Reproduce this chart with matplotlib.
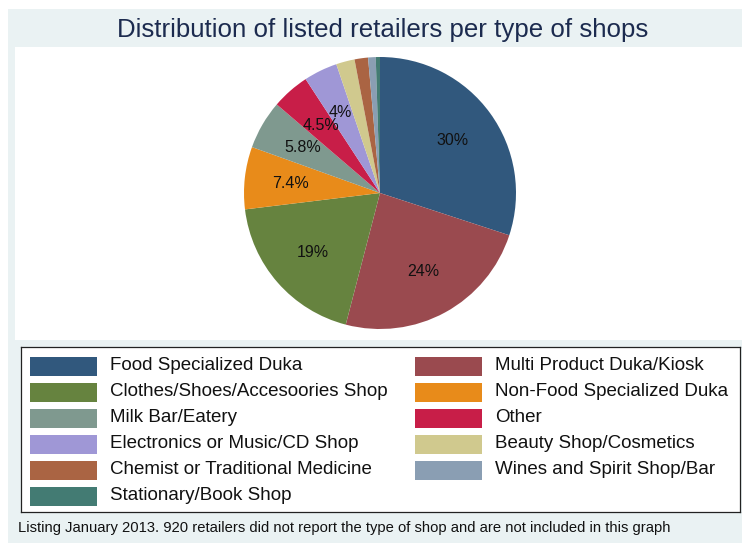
import matplotlib
matplotlib.use("Agg")
import matplotlib.pyplot as plt
from matplotlib.patches import Rectangle

plt.rcParams['font.family'] = ['Liberation Sans', 'DejaVu Sans']

# share of listed retailers per type of shop (%)
shop_types = [
    "Food Specialized Duka", "Multi Product Duka/Kiosk",
    "Clothes/Shoes/Accesoories Shop", "Non-Food Specialized Duka",
    "Milk Bar/Eatery", "Other",
    "Electronics or Music/CD Shop", "Beauty Shop/Cosmetics",
    "Chemist or Traditional Medicine", "Wines and Spirit Shop/Bar",
    "Stationary/Book Shop",
]
shares = [30, 24, 19, 7.4, 5.8, 4.5, 4, 2.2, 1.6, 0.9, 0.5]
colors = ["#31587D", "#9A4A4F", "#66833F", "#E88B1A", "#7F998F", "#C81E48",
          "#9F97D6", "#D0C98E", "#AA6443", "#8A9EB3", "#437B73"]

title = "Distribution of listed retailers per type of shops"
note = ("Listing January 2013. 920 retailers did not report the type of shop "
        "and are not included in this graph")

W, H = 742, 543
fig = plt.figure(figsize=(W / 100, H / 100), dpi=100)
fig.patch.set_facecolor("white")


def box(x0, y0, x1, y1):
    # pixel box (top-left origin) -> figure fraction rect
    return [x0 / W, 1 - y1 / H, (x1 - x0) / W, (y1 - y0) / H]


# graph region background
bg = fig.add_axes(box(8, 9, W, H))
bg.set_facecolor("#EAF2F3")
bg.set_xticks([]); bg.set_yticks([])
for s in bg.spines.values():
    s.set_visible(False)

# plot region
pr = fig.add_axes(box(15, 47, W, 340))
pr.set_facecolor("white")
pr.set_xticks([]); pr.set_yticks([])
for s in pr.spines.values():
    s.set_visible(False)

fig.text(383 / W, 1 - 30 / H, title, ha="center", va="center",
         fontsize=18.6, color="#1C2B4F")

# pie
cx, cy, r = 380, 193, 136
ax = fig.add_axes(box(cx - r, cy - r, cx + r, cy + r))
labels = [f"{v:g}%" if v >= 4 else "" for v in shares]
wedges, texts = ax.pie(shares, colors=colors, startangle=90, counterclock=False,
                       labels=labels, labeldistance=0.66, radius=1,
                       wedgeprops=dict(edgecolor="none"),
                       textprops=dict(fontsize=11.5, color="#111111",
                                      ha="center", va="center"))
ax.set_xlim(-1, 1)
ax.set_ylim(-1, 1)
ax.set_aspect("equal")
ax.axis("off")

# legend
lg = fig.add_axes(box(21, 347, 740, 512))
lg.set_xlim(21, 740)
lg.set_ylim(512, 347)
lg.set_facecolor("white")
lg.set_xticks([]); lg.set_yticks([])
for s in lg.spines.values():
    s.set_linewidth(0.9)
    s.set_color("#222222")

col_x = [30, 415]
for i, (name, c) in enumerate(zip(shop_types, colors)):
    row, col = divmod(i, 2)
    y = 366 + row * 26
    x = col_x[col]
    lg.add_patch(Rectangle((x, y - 9.5), 67, 19, facecolor=c, edgecolor="none"))
    lg.text(x + 80, y, name, ha="left", va="center", fontsize=13.5,
            color="#111111")

fig.text(18 / W, 1 - 528 / H, note, ha="left", va="center", fontsize=10.6,
         color="#111111")

fig.savefig("out.png", dpi=100, facecolor=fig.get_facecolor())
